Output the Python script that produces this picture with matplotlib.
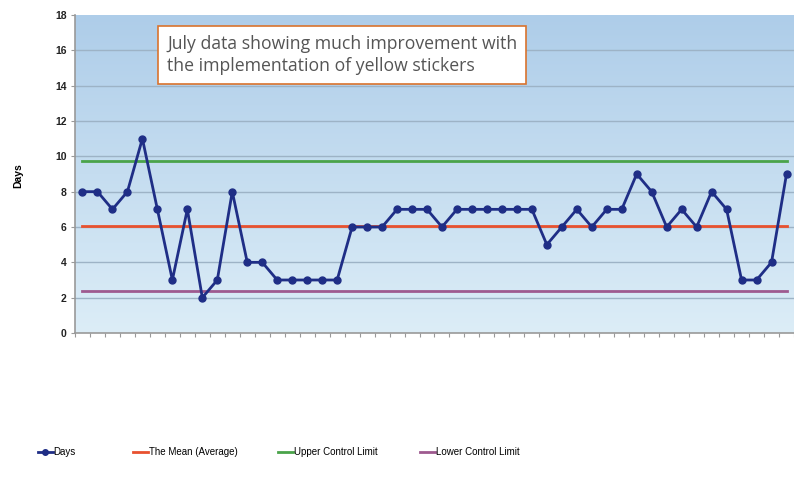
import numpy as np
import matplotlib.pyplot as plt
from matplotlib.colors import LinearSegmentedColormap

# daily values (48 samples)
days = [8, 8, 7, 8, 11, 7, 3, 7, 2, 3, 8, 4, 4, 3, 3, 3, 3, 3, 6, 6,
        6, 7, 7, 7, 6, 7, 7, 7, 7, 7, 7, 5, 6, 7, 6, 7, 7, 9, 8, 6,
        7, 6, 8, 7, 3, 3, 4, 9]
mean_value = 6.04
ucl_value = 9.75
lcl_value = 2.35
y_ticks = [0, 2, 4, 6, 8, 10, 12, 14, 16, 18]
note = "July data showing much improvement with\nthe implementation of yellow stickers"

font = "Liberation Sans"

x = np.arange(len(days))

fig = plt.figure(figsize=(7.94, 4.86), dpi=100)
ax = fig.add_axes([75 / 794, 1 - 333 / 486, 719 / 794, 318 / 486])

# blue gradient background, darker at the top
grad = LinearSegmentedColormap.from_list("bg", ["#dcedf7", "#aecde9"])
ax.imshow(np.linspace(0, 1, 256).reshape(-1, 1), cmap=grad, aspect="auto",
          origin="lower", extent=(-0.5, len(days) - 0.5, 0, 18), zorder=0)

for yv in y_ticks[1:-1]:
    ax.axhline(yv, color="#9db3c6", lw=1.0, zorder=1)

ax.plot(x, [mean_value] * len(x), color="#e8512f", lw=2, zorder=2, label="The Mean (Average)")
ax.plot(x, [ucl_value] * len(x), color="#4aa34a", lw=2, zorder=2, label="Upper Control Limit")
ax.plot(x, [lcl_value] * len(x), color="#9e5a8f", lw=2, zorder=2, label="Lower Control Limit")
ax.plot(x, days, color="#1f2e86", lw=2, marker="o", ms=5, zorder=3, label="Days")

ax.set_xlim(-0.5, len(days) - 0.5)
ax.set_ylim(0, 18)
ax.set_yticks(y_ticks)
ax.set_yticklabels([str(t) for t in y_ticks], fontsize=7.5, fontweight="bold",
                   family=font, color="#222222")
ax.set_xticks(np.arange(-0.5, len(days), 1.0))
ax.set_xticklabels([])
ax.tick_params(axis="both", direction="out", length=3, color="#999999", width=0.8)
ax.tick_params(axis="y", pad=3)

for side in ["top", "right"]:
    ax.spines[side].set_visible(False)
for side in ["left", "bottom"]:
    ax.spines[side].set_color("#999999")
    ax.spines[side].set_linewidth(1.2)

fig.text(18 / 794, 1 - 176 / 486, "Days", rotation=90, ha="center", va="center",
         fontsize=7.5, fontweight="bold", family=font)

fig.text(167 / 794, 1 - 55 / 486, note, ha="left", va="center", fontsize=12.7,
         family="Open Sans", color="#555555", linespacing=1.3,
         bbox=dict(boxstyle="square,pad=0.5", fc="white", ec="#d9732e", lw=1.2))

# legend entries spread along the bottom, one small legend each
handles, labels = ax.get_legend_handles_labels()
order = [3, 0, 1, 2]
legend_x = [38, 133, 278, 420]
for i, lx in zip(order, legend_x):
    fig.legend([handles[i]], [labels[i]], loc="center left",
               bbox_to_anchor=(lx / 794, 1 - 452 / 486), frameon=False,
               handlelength=1.5, handletextpad=0.1, markerscale=0.8,
               prop={"family": font, "size": 7}, borderaxespad=0, borderpad=0)

fig.savefig("out.png", dpi=100)
